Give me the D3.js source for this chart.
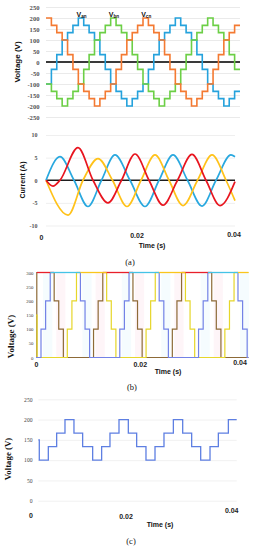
<!DOCTYPE html>
<html><head><meta charset="utf-8">
<script src="https://cdn.jsdelivr.net/npm/d3@7"></script>
<style>body{margin:0;background:#fff}svg{display:block}</style>
</head><body><svg id="c" width="263" height="550"></svg>
<script>
// ================= DATA =================
// (a) upper panel: phase voltages, one level per equal step (36 steps across 0–40 ms)
const phaseStepMs = 40 / 36;
const vanLevels = [-100,-33.3,33.3,100,133.3,166.7,200,166.7,133.3,100,33.3,-33.3,-100,-133.3,-166.7,-200,-166.7,-133.3,
                   -100,-33.3,33.3,100,133.3,166.7,200,166.7,133.3,100,33.3,-33.3,-100,-133.3,-166.7,-200,-166.7,-133.3];
const vbnLevels = [-100,-133.3,-166.7,-200,-166.7,-133.3,-100,-33.3,33.3,100,133.3,166.7,200,166.7,133.3,100,33.3,-33.3,
                   -100,-133.3,-166.7,-200,-166.7,-133.3,-100,-33.3,33.3,100,133.3,166.7,200,166.7,133.3,100,33.3,-33.3];
const vcnLevels = [200,166.7,133.3,100,33.3,-33.3,-100,-133.3,-166.7,-200,-166.7,-133.3,-100,-33.3,33.3,100,133.3,166.7,
                   200,166.7,133.3,100,33.3,-33.3,-100,-133.3,-166.7,-200,-166.7,-133.3,-100,-33.3,33.3,100,133.3,166.7];
const phaseNames = ["an","bn","cn"];
const voltTicksA = [250,200,150,100,50,0,-50,-100,-150,-200,-250];

// (a) lower panel: phase currents [ms, A]
const iBlue = [[0,0],[2.96,5.2],[5.93,0],[8.89,-5.8],[11.75,0],[14.6,5.6],[17.78,0],[20.95,-5.8],[23.92,0],[26.88,5.6],[29.95,0],[33.02,-5.7],[35.98,0],[39.15,5.6],[40,5.2]];
const iRed = [[0,0],[1.48,-1.3],[2.96,0],[6.77,7.2],[9.95,0],[13.12,-5.0],[15.98,0],[18.84,5.8],[21.8,0],[24.76,-5.5],[27.83,0],[30.9,5.7],[33.86,0],[36.83,-5.6],[40,-0.3]];
const iYellow = [[0,0],[4.66,-7.7],[7.83,0],[11.01,4.8],[14.07,0],[17.14,-5.8],[20.11,0],[23.07,5.6],[26.03,0],[29.0,-5.6],[32.07,0],[35.14,5.6],[38.1,0],[40,-4.5]];
const currTicks = [10,5,0,-5,-10];

// (b) pole voltages [ms, V] (step breakpoints)
const poleBlue = [[0,0],[0.94,100],[1.81,200],[2.68,300],[8.36,200],[9.23,100],[10.09,0],[15.77,100],[16.64,200],[17.51,300],[23.19,200],[24.06,100],[24.92,0],[30.6,100],[31.47,200],[32.34,300],[38.02,200],[38.89,100],[39.75,0],[40,0]];
const poleBrown = [[0,0],[0.15,300],[3.42,200],[4.28,100],[5.15,0],[10.83,100],[11.7,200],[12.57,300],[18.25,200],[19.11,100],[19.98,0],[25.66,100],[26.53,200],[27.4,300],[33.08,200],[33.94,100],[34.81,0],[40,0]];
const poleYellow = [[0,150],[0.2,0],[5.89,100],[6.76,200],[7.62,300],[13.3,200],[14.17,100],[15.04,0],[20.72,100],[21.58,200],[22.45,300],[28.13,200],[29.0,100],[29.87,0],[35.55,100],[36.42,200],[37.28,300],[40,300]];
const voltTicksB = [300,250,200,150,100,50,0];

// (c) common-mode voltage [ms, V] (step breakpoints)
const cmVolt = [[0,150],[0.2,100],[2.02,133.3],[3.7,166.7],[5.38,200],[7.19,166.7],[8.94,133.3],[10.96,100],[12.77,133.3],[14.45,166.7],[16.27,200],[18.15,166.7],[19.83,133.3],[21.71,100],[23.53,133.3],[25.34,166.7],[27.23,200],[29.11,166.7],[30.92,133.3],[32.74,100],[34.62,133.3],[36.3,166.7],[38.32,200],[40,200]];
const voltTicksC = [250,200,150,100,50,0];

const timeTicksMs = [0,20,40];
const timeFmt = d => d === 0 ? "0" : (d/1000).toFixed(2);

// ================= DRAW =================
const SANS = "'Liberation Sans', Arial, sans-serif";
const SERIF = "'Liberation Serif', 'Times New Roman', serif";
const svg = d3.select("#c");
svg.append("rect").attr("width",263).attr("height",550).attr("fill","#fff");

function gridY(scale, ticks, x0, x1, color, w) {
  svg.append("g").attr("transform",`translate(${x0},0)`)
    .call(d3.axisRight(scale).tickValues(ticks).tickSize(x1-x0).tickFormat(""))
    .call(g=>g.select(".domain").remove())
    .call(g=>g.selectAll("line").attr("stroke",color).attr("stroke-width",w||0.8));
}
function labelsY(scale, ticks, xRight, size, family, fill, weight) {
  svg.append("g").attr("transform",`translate(${xRight},0)`)
    .call(d3.axisLeft(scale).tickValues(ticks).tickSize(0).tickPadding(0).tickFormat(d=>String(d)))
    .call(g=>g.select(".domain").remove())
    .call(g=>g.selectAll("text").attr("font-size",size).attr("font-family",family)
      .attr("fill",fill).attr("font-weight",weight||"normal"));
}
function labelsX(scale, ticks, dxs, ys, size) {
  svg.append("g").selectAll("text").data(ticks).join("text")
    .attr("x",(d,i)=>scale(d)+dxs[i]).attr("y",(d,i)=>ys[i])
    .attr("text-anchor","middle").attr("font-family",SANS).attr("font-weight","bold")
    .attr("font-size",size).attr("fill","#222").text(timeFmt);
}
function text(x,y,str,opts) {
  const t = svg.append("text").attr("x",x).attr("y",y).text(str)
    .attr("font-family",opts.family||SANS).attr("font-size",opts.size||8)
    .attr("font-weight",opts.weight||"normal").attr("fill",opts.fill||"#222")
    .attr("text-anchor",opts.anchor||"middle");
  if (opts.rotate) t.attr("transform",`rotate(-90,${x},${y})`);
  return t;
}

// ---- (a) upper: phase voltages ----
const xA = d3.scaleLinear().domain([0,40]).range([46,240]);
const yA = d3.scaleLinear().domain([-250,250]).range([117,7]);
gridY(yA, voltTicksA.filter(d=>d!==0), 46, 240, "#e4e4e4", 0.8);
labelsY(yA, voltTicksA, 39.5, 6.6, SERIF, "#555", "bold");
svg.append("line").attr("x1",xA(0)).attr("x2",xA(40)).attr("y1",yA(0)).attr("y2",yA(0))
  .attr("stroke","#3a3a3a").attr("stroke-width",2);
const stepLine = (xs, ys) => d3.line().x(d=>xs(d[0])).y(d=>ys(d[1])).curve(d3.curveStepAfter);
const toSteps = lv => lv.map((v,i)=>[i*phaseStepMs, v]).concat([[40, lv[lv.length-1]]]);
const phaseSeries = [
  {lv: vanLevels, color:"#25A2DC"},
  {lv: vbnLevels, color:"#6CCF46"},
  {lv: vcnLevels, color:"#F47A32"}
];
phaseSeries.forEach(s=>{
  svg.append("path").datum(toSteps(s.lv)).attr("d",stepLine(xA,yA))
    .attr("fill","none").attr("stroke",s.color).attr("stroke-width",1.6);
});
phaseSeries.forEach((s,k)=>{
  const i = s.lv.findIndex(v=>v===200);
  const idx = i === 0 ? s.lv.indexOf(200, 1) : i;
  const cx = xA((idx+0.5)*phaseStepMs);
  const t = svg.append("text").attr("x",cx-4.5).attr("y",17.2)
    .attr("font-family",SANS).attr("font-weight","bold").attr("fill","#111");
  t.append("tspan").attr("font-size",7).text("V");
  t.append("tspan").attr("font-size",4.6).attr("dy",1.2).text(phaseNames[k]);
});
text(19.5, 62, "Voltage (V)", {rotate:true, weight:"bold", size:8, fill:"#111"});

// ---- (a) lower: currents ----
const xI = d3.scaleLinear().domain([0,40]).range([46,235]);
const yI = d3.scaleLinear().domain([-10,10]).range([225.5,135]);
gridY(yI, currTicks.filter(d=>d!==0), 46, 235, "#ebebeb", 0.8);
labelsY(yI, currTicks, 37.5, 6, SERIF, "#555", "bold");
svg.append("line").attr("x1",xI(0)).attr("x2",xI(40)).attr("y1",yI(0)).attr("y2",yI(0))
  .attr("stroke","#1e1e1e").attr("stroke-width",1.4);
const curLine = d3.line().x(d=>xI(d[0])).y(d=>yI(d[1])).curve(d3.curveMonotoneX);
[[iBlue,"#29A8DF"],[iYellow,"#FFC21A"],[iRed,"#E8151F"]].forEach(([d,c])=>{
  svg.append("path").datum(d).attr("d",curLine).attr("fill","none")
    .attr("stroke",c).attr("stroke-width",1.7);
});
text(24.5, 180, "Current (A)", {rotate:true, weight:"bold", size:7, fill:"#111"});
labelsX(xI, timeTicksMs, [-4.5,-3.5,-1], [240,238,237], 7);
text(152, 248, "Time (s)", {weight:"bold", size:7, fill:"#111"});
text(130, 265, "(a)", {family:SERIF, size:8.5, fill:"#111"});

// ---- (b) pole voltages ----
const xB = d3.scaleLinear().domain([0,40]).range([36,248.5]);
const yB = d3.scaleLinear().domain([0,300]).range([357.5,272.5]);
const poleSeries = [
  {d: poleBrown, main:"#8D6A37", top:"#E8202A", band:"#fdeef4"},
  {d: poleYellow, main:"#E6D62A", top:"#FAC51C", band:null},
  {d: poleBlue, main:"#7382E6", top:"#45C3E6", band:"#eefafd"}
];
// faint shading over the intermediate-level intervals (transition groups)
poleSeries.forEach(s=>{
  if (!s.band) return;
  const spans = [];
  let start = null;
  for (let i=0;i<s.d.length-1;i++) {
    const mid = s.d[i][1] > 0 && s.d[i][1] < 300;
    if (mid && start === null) start = s.d[i][0];
    if (!mid && start !== null) { spans.push([start, s.d[i][0]]); start = null; }
  }
  svg.append("g").selectAll("rect").data(spans).join("rect")
    .attr("x",d=>xB(d[0])+2).attr("width",d=>xB(d[1])-xB(d[0]))
    .attr("y",yB(300)).attr("height",yB(0)-yB(300)).attr("fill",s.band).attr("opacity",0.6);
});
labelsY(yB, voltTicksB, 33.5, 4.8, SERIF, "#333", "normal");
const lineB = stepLine(xB, yB);
poleSeries.forEach(s=>{
  svg.append("path").datum(s.d).attr("d",lineB).attr("fill","none")
    .attr("stroke",s.main).attr("stroke-width",1.2);
});
poleSeries.forEach(s=>{
  const segs = [];
  for (let i=0;i<s.d.length-1;i++) if (s.d[i][1]===300) segs.push([s.d[i][0], s.d[i+1][0]]);
  svg.append("g").selectAll("line").data(segs).join("line")
    .attr("x1",d=>xB(d[0])).attr("x2",d=>xB(d[1])).attr("y1",yB(300)).attr("y2",yB(300))
    .attr("stroke",s.top).attr("stroke-width",1.3);
});
text(13.5, 336.5, "Voltage (V)", {rotate:true, family:SERIF, weight:"bold", size:9, fill:"#111"});
labelsX(xB, timeTicksMs, [0.5,-2,-8.5], [367,366.5,365], 7);
text(168, 374, "Time (s)", {weight:"bold", size:7, fill:"#111"});
text(132, 390, "(b)", {family:SERIF, size:8.5, fill:"#111"});

// ---- (c) common-mode voltage ----
const xC = d3.scaleLinear().domain([0,40]).range([38.3,236.7]);
const yC = d3.scaleLinear().domain([0,250]).range([500.7,399.3]);
gridY(yC, voltTicksC, 38.3, 236.7, "#eeeeee", 0.8);
labelsY(yC, voltTicksC, 32.5, 5.6, SERIF, "#444", "normal");
svg.append("path").datum(cmVolt).attr("d",stepLine(xC,yC)).attr("fill","none")
  .attr("stroke","#5E7FE2").attr("stroke-width",1.3);
text(11, 459, "Voltage (V)", {rotate:true, family:SERIF, weight:"bold", size:8.8, fill:"#111"});
labelsX(xC, timeTicksMs, [-7.3,-11.5,-5], [518,519,512.5], 7);
text(160, 527, "Time (s)", {weight:"bold", size:7, fill:"#111"});
text(131, 544, "(c)", {family:SERIF, size:8.5, fill:"#111"});
</script>
</body></html>
